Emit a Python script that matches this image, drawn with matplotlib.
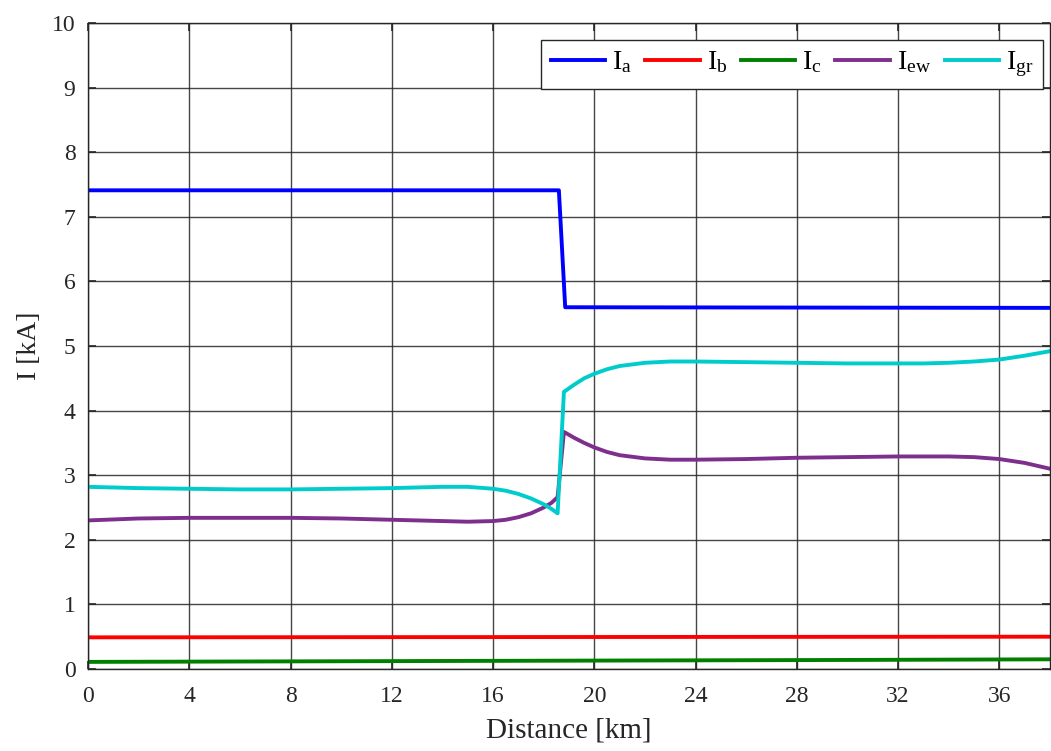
import matplotlib
matplotlib.use("Agg")
import matplotlib.pyplot as plt

plt.rcParams['font.family'] = ['Liberation Serif', 'DejaVu Serif']
plt.rcParams['mathtext.fontset'] = 'custom'
plt.rcParams['mathtext.rm'] = 'Liberation Serif'
plt.rcParams['mathtext.it'] = 'Liberation Serif'

# Phase currents
ia_x = [0, 18.6, 18.85, 38]
ia_y = [7.41, 7.41, 5.60, 5.59]
ib_x = [0, 38]
ib_y = [0.49, 0.50]
ic_x = [0, 10, 20, 30, 38]
ic_y = [0.11, 0.12, 0.13, 0.14, 0.15]

# Earth-wire current
iew_x = [0, 2, 4, 6, 8, 10, 12, 13, 14, 15, 16, 16.5, 17, 17.5, 18, 18.3, 18.55,
         18.8, 19.2, 19.6, 20, 20.5, 21, 22, 23, 24, 26, 28, 30, 32, 33, 34, 35, 36, 37, 38]
iew_y = [2.30, 2.33, 2.34, 2.34, 2.34, 2.33, 2.31, 2.30, 2.29, 2.28, 2.29, 2.31, 2.35, 2.41, 2.50, 2.57, 2.66,
         3.67, 3.58, 3.50, 3.43, 3.36, 3.31, 3.26, 3.24, 3.24, 3.25, 3.27, 3.28, 3.29, 3.29, 3.29, 3.28, 3.25, 3.19, 3.10]

# Ground-return current
igr_x = [0, 2, 4, 6, 8, 10, 12, 13, 14, 15, 16, 16.5, 17, 17.5, 18, 18.3, 18.55,
         18.8, 19.2, 19.6, 20, 20.5, 21, 22, 23, 24, 26, 28, 30, 32, 33, 34, 35, 36, 37, 38]
igr_y = [2.82, 2.80, 2.79, 2.78, 2.78, 2.79, 2.80, 2.81, 2.82, 2.82, 2.79, 2.76, 2.71, 2.64, 2.55, 2.48, 2.41,
         4.29, 4.40, 4.50, 4.57, 4.64, 4.69, 4.74, 4.76, 4.76, 4.75, 4.74, 4.73, 4.73, 4.73, 4.74, 4.76, 4.79, 4.85, 4.92]

series = [
    (ia_x, ia_y, '#0000ff', r'$\mathrm{I_a}$'),
    (ib_x, ib_y, '#ff0000', r'$\mathrm{I_b}$'),
    (ic_x, ic_y, '#008000', r'$\mathrm{I_c}$'),
    (iew_x, iew_y, '#7e2f8e', r'$\mathrm{I_{ew}}$'),
    (igr_x, igr_y, '#00cccc', r'$\mathrm{I_{gr}}$'),
]

x_ticks = [0, 4, 8, 12, 16, 20, 24, 28, 32, 36]
y_ticks = [0, 1, 2, 3, 4, 5, 6, 7, 8, 9, 10]

fig = plt.figure(figsize=(10.51, 7.51), dpi=100)
ax = fig.add_axes([88 / 1051, 82 / 751, 962 / 1051, 646 / 751])

for x, y, c, lab in series:
    ax.plot(x, y, color=c, lw=2.8, label=lab)

ax.set_xlim(0, 38)
ax.set_ylim(0, 10)
ax.set_xticks(x_ticks)
ax.set_yticks(y_ticks)
ax.grid(True, color='#262626', lw=1.0, alpha=0.85)
ax.tick_params(direction='in', length=6, width=1.2, labelsize=17, colors='#262626',
               top=True, right=True)
ax.tick_params(axis='x', pad=12)
ax.tick_params(axis='y', pad=9)
for s in ax.spines.values():
    s.set_color('#262626')
    s.set_linewidth(1.0)

ax.set_xlabel('Distance [km]', fontsize=21, color='#262626', labelpad=8)
ax.set_ylabel('I [kA]', fontsize=20, color='#262626', labelpad=7)

leg = ax.legend(loc='upper right', ncol=5, fontsize=20, frameon=True, fancybox=False,
                edgecolor='#262626', framealpha=1, handlelength=1.95, columnspacing=0.5,
                handletextpad=0.25, borderaxespad=0.0, bbox_to_anchor=(0.9925, 0.974),
                borderpad=0.35)
leg.get_frame().set_linewidth(1.0)

fig.savefig('out.png', dpi=100)
